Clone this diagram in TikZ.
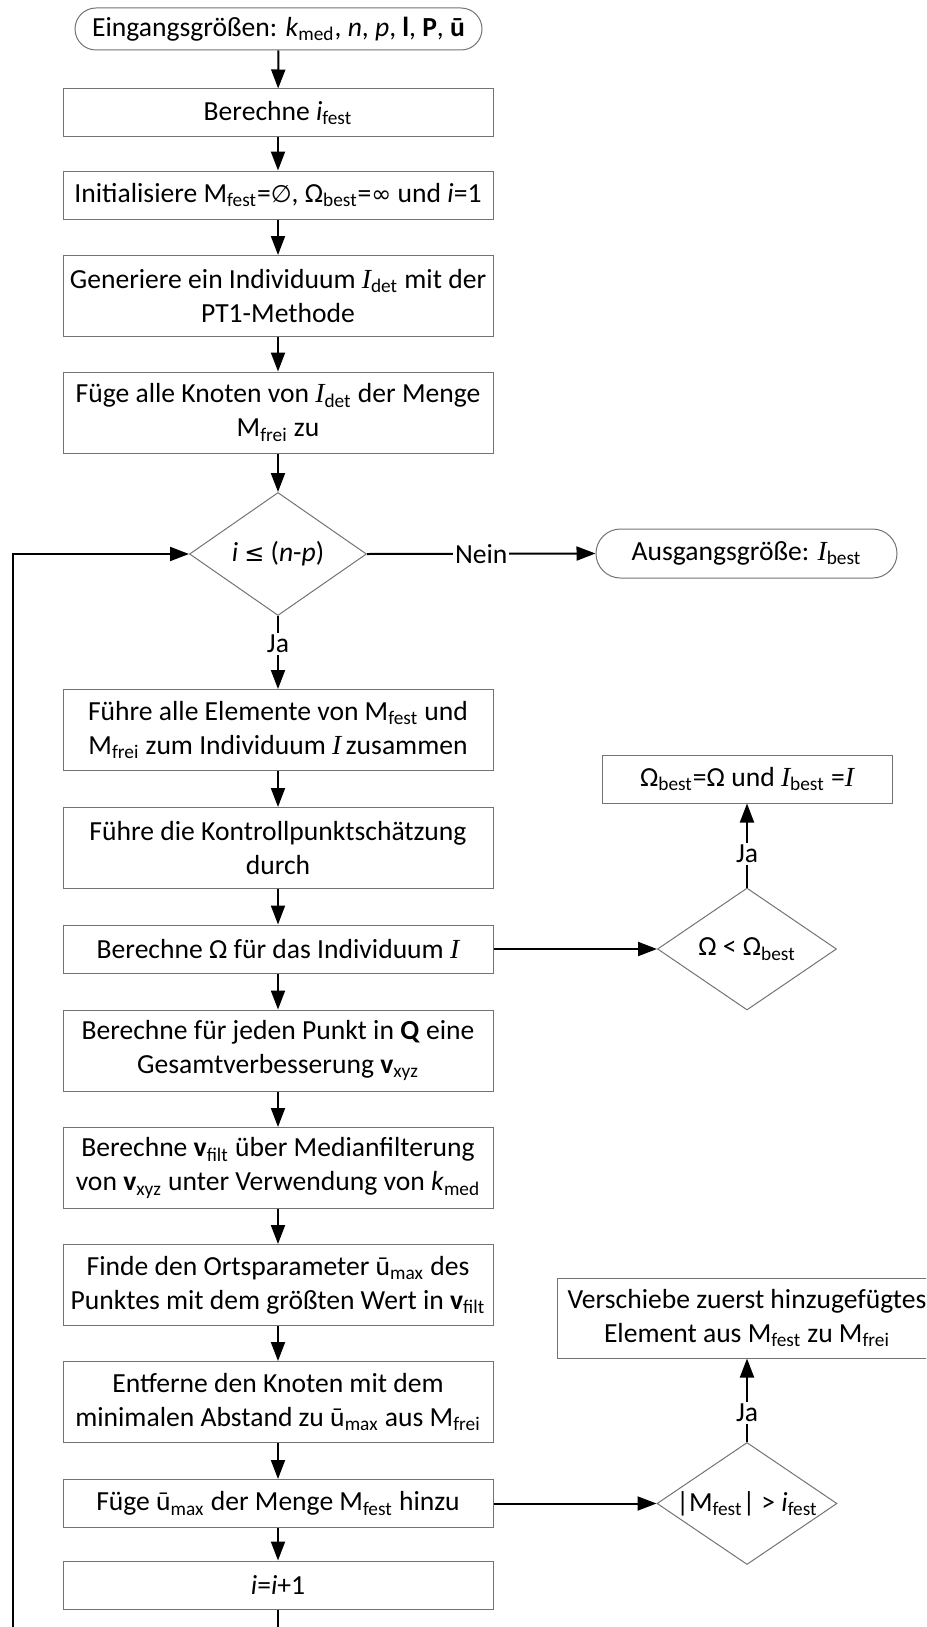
\documentclass[tikz,border=0pt]{standalone}
\usepackage{fontspec}
\setmainfont{Carlito}
\newfontfamily\serifI{Liberation Serif}
\newfontfamily\symf{DejaVu Sans}
\usetikzlibrary{shapes.geometric,arrows.meta}
\newcommand{\II}{{\serifI\itshape I}}
\newcommand{\sbs}[1]{\textsubscript{#1}}
\newcommand{\sym}[1]{{\symf\fontsize{12}{14}\selectfont #1}}
\begin{document}
\begin{tikzpicture}[x=0.5pt, y=-0.5pt,
  font=\fontsize{13.8}{17}\selectfont,
  box/.style={draw=black!55, line width=0.5pt, rectangle, minimum width=215pt, align=center, inner sep=0pt},
  onebox/.style={box, minimum height=24pt},
  twobox/.style={box, minimum height=40.5pt},
  term/.style={draw=black!55, line width=0.5pt, rectangle, align=center, inner sep=0pt},
  dec/.style={draw=black!55, line width=0.5pt, diamond, aspect=1.45, inner sep=0pt, align=center},
  conn/.style={-{Triangle[length=9.5pt,width=7pt]}, line width=1pt},
  lbl/.style={fill=white, inner sep=1pt}
]
\useasboundingbox (0,0) rectangle (926,1627);
\clip (0,0) rectangle (926,1627);

% main column
\node[term, minimum width=203.5pt, minimum height=21pt, rounded corners=10.5pt] (start) at (278.5,29)
  {Eingangsgrößen: \textit{k}\sbs{med}, \textit{n}, \textit{p}, \textbf{l}, \textbf{P}, \textbf{ū}};
\node[onebox] (b1) at (278,113) {Berechne \textit{i}\sbs{fest}};
\node[onebox] (b2) at (278,195) {Initialisiere M\sbs{fest}=\sym{∅}, Ω\sbs{best}=\sym{∞} und \textit{i}=1};
\node[twobox] (b3) at (278,296) {Generiere ein Individuum \II\sbs{det} mit der\\PT1-Methode};
\node[twobox] (b4) at (278,412.5) {Füge alle Knoten von \II\sbs{det} der Menge\\M\sbs{frei} zu};
\node[dec, minimum width=88.5pt, minimum height=61.5pt] (d1) at (278,554) {\textit{i} \sym{≤} (\textit{n}-\textit{p})};
\node[term, minimum width=150.5pt, minimum height=24.5pt, rounded corners=12.25pt] (out) at (746.5,553.5)
  {Ausgangsgröße: \II\sbs{best}};
\node[twobox] (b5) at (278,730) {Führe alle Elemente von M\sbs{fest} und\\M\sbs{frei} zum Individuum \II\,zusammen};
\node[twobox] (b6) at (278,848) {Führe die Kontrollpunktschätzung\\durch};
\node[onebox] (b7) at (278,949) {Berechne Ω für das Individuum \II};
\node[twobox] (b8) at (278,1050.5) {Berechne für jeden Punkt in \textbf{Q} eine\\Gesamtverbesserung \textbf{v}\sbs{xyz}};
\node[twobox] (b9) at (278,1168) {Berechne \textbf{v}\sbs{filt} über Medianfilterung\\von \textbf{v}\sbs{xyz} unter Verwendung von \textit{k}\sbs{med}};
\node[twobox] (b10) at (278,1285) {Finde den Ortsparameter ū\sbs{max} des\\Punktes mit dem größten Wert in \textbf{v}\sbs{filt}};
\node[twobox] (b11) at (278,1402) {Entferne den Knoten mit dem\\minimalen Abstand zu ū\sbs{max} aus M\sbs{frei}};
\node[onebox] (b12) at (278,1503.5) {Füge ū\sbs{max} der Menge M\sbs{fest} hinzu};
\node[onebox] (b13) at (278,1585) {\textit{i}=\textit{i}+1};

% right column
\node[box, minimum width=145pt, minimum height=24pt] (rb1) at (747,779) {Ω\sbs{best}=Ω und \II\sbs{best} =\II};
\node[dec, minimum width=89.5pt, minimum height=61pt] (d2) at (747,949) {Ω < Ω\sbs{best}};
\node[box, minimum width=190pt, minimum height=40pt] (rb2) at (747,1318) {Verschiebe zuerst hinzugefügtes\\Element aus M\sbs{fest} zu M\sbs{frei}};
\node[dec, minimum width=90pt, minimum height=61pt] (d3) at (747,1503.5) {|M\sbs{fest}| > \textit{i}\sbs{fest}};

% connectors
\draw[conn] (start) -- (b1);
\draw[conn] (b1) -- (b2);
\draw[conn] (b2) -- (b3);
\draw[conn] (b3) -- (b4);
\draw[conn] (b4) -- (d1);
\draw[conn] (d1.south) -- node[lbl, pos=0.38] {Ja} (b5.north);
\draw[conn] (d1.east) -- node[lbl, pos=0.5] {Nein} (out.west);
\draw[conn] (b5) -- (b6);
\draw[conn] (b6) -- (b7);
\draw[conn] (b7) -- (b8);
\draw[conn] (b8) -- (b9);
\draw[conn] (b9) -- (b10);
\draw[conn] (b10) -- (b11);
\draw[conn] (b11) -- (b12);
\draw[conn] (b12) -- (b13);
\draw[conn] (b7.east) -- (d2.west);
\draw[conn] (d2.north) -- node[lbl, pos=0.4] {Ja} (rb1.south);
\draw[conn] (b12.east) -- (d3.west);
\draw[conn] (d3.north) -- node[lbl, pos=0.35] {Ja} (rb2.south);
\coordinate (loopA) at (13,1660);
\draw[conn] (b13.south) -- (b13.south |- loopA) -- (loopA) |- (d1.west);
\end{tikzpicture}
\end{document}
